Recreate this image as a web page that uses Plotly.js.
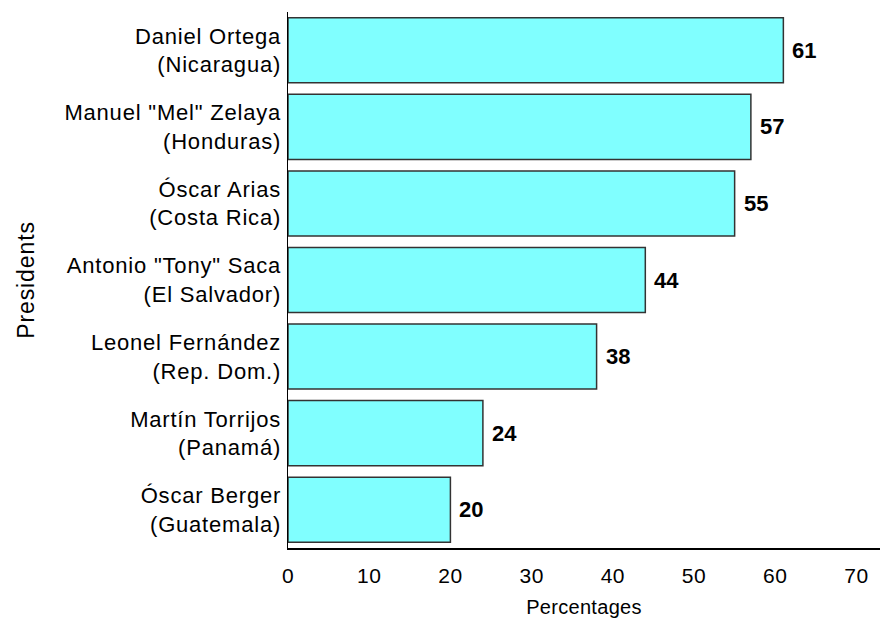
<!DOCTYPE html>
<html>
<head>
<meta charset="utf-8">
<script src="https://cdn.plot.ly/plotly-3.0.1.min.js"></script>
<style>
html,body{margin:0;padding:0;background:#fff;}
#chart{width:881px;height:624px;}
#chart .ytick text{letter-spacing:0.8px;}
#chart .g-ytitle text{letter-spacing:0.9px;}
#chart .xtick text{letter-spacing:0.5px;}
#chart .g-xtitle text{letter-spacing:0.3px;}
</style>
</head>
<body>
<div id="chart"></div>
<script>
const presidents = [
  'Óscar Berger<br>(Guatemala)',
  'Martín Torrijos<br>(Panamá)',
  'Leonel Fernández<br>(Rep. Dom.)',
  'Antonio "Tony" Saca<br>(El Salvador)',
  'Óscar Arias<br>(Costa Rica)',
  'Manuel "Mel" Zelaya<br>(Honduras)',
  'Daniel Ortega<br>(Nicaragua)'
];
const percentages = [20, 24, 38, 44, 55, 57, 61];
const xTicks = [0, 10, 20, 30, 40, 50, 60, 70];

const font = 'Liberation Sans, Arial, sans-serif';

const trace = {
  type: 'bar',
  orientation: 'h',
  x: percentages,
  y: presidents,
  width: 0.85,
  marker: { color: '#80FFFF', line: { color: '#333333', width: 1.5 } },
  hoverinfo: 'none'
};

const annotations = percentages.map((v, i) => ({
  x: v, y: presidents[i], xref: 'x', yref: 'y',
  text: String(v), showarrow: false, xanchor: 'left', xshift: 7,
  font: { family: font, size: 22, color: '#000', weight: 'bold' }
}));

const layout = {
  width: 881, height: 624,
  margin: { l: 288, r: 1, t: 12, b: 76 },
  paper_bgcolor: '#fff', plot_bgcolor: '#fff',
  showlegend: false,
  font: { family: font, color: '#000' },
  xaxis: {
    range: [0, 72.9],
    tickvals: xTicks, ticktext: xTicks.map(String),
    showgrid: false, zeroline: false,
    showline: true, linecolor: '#000', linewidth: 1.5,
    ticks: '', ticklabelstandoff: 8,
    tickfont: { family: font, size: 21, color: '#000' },
    title: { text: 'Percentages', font: { family: font, size: 20, color: '#000' }, standoff: 14 }
  },
  yaxis: {
    type: 'category',
    range: [-0.5, 6.5],
    showgrid: false, zeroline: false,
    showline: true, linecolor: '#000', linewidth: 1.5,
    ticks: '', ticklabelstandoff: 1,
    tickfont: { family: font, size: 22, color: '#000' },
    title: { text: 'Presidents', font: { family: font, size: 23, color: '#000' }, standoff: 38 },
    automargin: false
  },
  annotations: annotations
};

Plotly.newPlot('chart', [trace], layout, { staticPlot: true, displayModeBar: false });
</script>
</body>
</html>
